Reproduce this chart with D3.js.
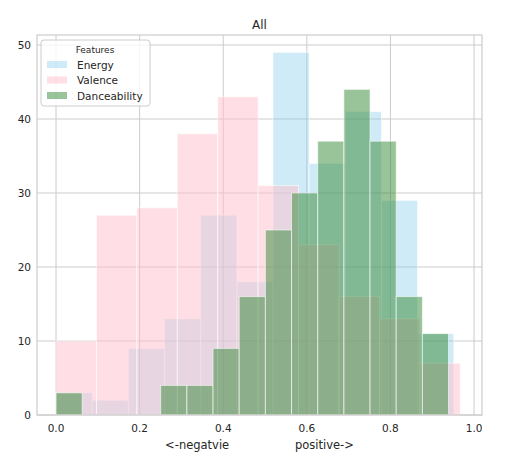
<!DOCTYPE html>
<html><head><meta charset="utf-8">
<script src="https://cdn.jsdelivr.net/npm/d3@7"></script>
<style>body{margin:0;background:#fff;font-family:"DejaVu Sans",sans-serif;}</style>
</head><body>
<script>
var energyStart = 0, energyWidth = 0.0865;
var energy = [3, 2, 9, 13, 27, 18, 49, 34, 41, 29, 11];
var valenceStart = 0, valenceWidth = 0.0967;
var valence = [10, 27, 28, 38, 43, 31, 23, 16, 13, 7];
var danceStart = 0, danceWidth = 0.0626;
var dance = [3, 0, 0, 0, 4, 4, 9, 16, 25, 30, 37, 44, 37, 16, 11];
var xTicks = [0, 0.2, 0.4, 0.6, 0.8, 1.0];
var yTicks = [0, 10, 20, 30, 40, 50];

var w = 505, h = 475;
var mLeft = 37, mRight = 482, mTop = 35, mBottom = 415;

var svg = d3.select("body").append("svg").attr("width", w).attr("height", h);

var xScale = d3.scaleLinear().domain([-0.0455, 1.019]).range([mLeft, mRight]);
var yScale = d3.scaleLinear().domain([0, 51.35]).range([mBottom, mTop]);

// grid
svg.append("g").selectAll("line").data(xTicks).enter().append("line")
    .attr("x1", d => xScale(d)).attr("x2", d => xScale(d))
    .attr("y1", mTop).attr("y2", mBottom)
    .attr("stroke", "#cccccc").attr("stroke-width", 1);
svg.append("g").selectAll("line").data(yTicks).enter().append("line")
    .attr("x1", mLeft).attr("x2", mRight)
    .attr("y1", d => yScale(d)).attr("y2", d => yScale(d))
    .attr("stroke", "#cccccc").attr("stroke-width", 1);

function drawHist(values, start, width, fill, alpha){
    svg.append("g").selectAll("rect").data(values).enter().append("rect")
        .attr("x", (d, i) => xScale(start + i * width))
        .attr("width", (d, i) => xScale(start + (i + 1) * width) - xScale(start + i * width))
        .attr("y", d => yScale(d))
        .attr("height", d => mBottom - yScale(d))
        .attr("fill", fill).attr("fill-opacity", alpha)
        .attr("stroke", "#ffffff").attr("stroke-opacity", 0.6).attr("stroke-width", 1)
        .style("display", d => d > 0 ? null : "none");
}
drawHist(energy, energyStart, energyWidth, "#87ceeb", 0.4);
drawHist(valence, valenceStart, valenceWidth, "#ffc0cb", 0.5);
drawHist(dance, danceStart, danceWidth, "#338833", 0.5);

// frame
svg.append("rect").attr("x", mLeft).attr("y", mTop)
    .attr("width", mRight - mLeft).attr("height", mBottom - mTop)
    .attr("fill", "none").attr("stroke", "#cccccc").attr("stroke-width", 1.2);

// tick labels
svg.append("g").selectAll("text").data(xTicks).enter().append("text")
    .attr("x", d => xScale(d)).attr("y", mBottom + 17)
    .attr("text-anchor", "middle").attr("font-size", 10.5).attr("fill", "#262626")
    .text(d => d.toFixed(1));
svg.append("g").selectAll("text").data(yTicks).enter().append("text")
    .attr("x", mLeft - 6).attr("y", d => yScale(d) + 4)
    .attr("text-anchor", "end").attr("font-size", 10.5).attr("fill", "#262626")
    .text(d => d);

svg.append("text").attr("x", (mLeft + mRight) / 2).attr("y", 29)
    .attr("text-anchor", "middle").attr("font-size", 12).attr("fill", "#262626").text("All");
svg.append("text").attr("x", (mLeft + mRight) / 2).attr("y", 449)
    .attr("text-anchor", "middle").attr("font-size", 11.5).attr("fill", "#262626")
    .style("white-space", "pre")
    .text("<-negatvie                  positive->");

// legend
var lg = svg.append("g");
lg.append("rect").attr("x", 41).attr("y", 40).attr("width", 109).attr("height", 66)
    .attr("rx", 3).attr("fill", "#ffffff").attr("fill-opacity", 0.8).attr("stroke", "#cccccc");
lg.append("text").attr("x", 95).attr("y", 53).attr("text-anchor", "middle")
    .attr("font-size", 9).attr("fill", "#262626").text("Features");
var items = [["Energy", "#87ceeb", 0.4], ["Valence", "#ffc0cb", 0.5], ["Danceability", "#338833", 0.5]];
items.forEach(function(it, i){
    var y = 65 + i * 15.5;
    lg.append("rect").attr("x", 47).attr("y", y - 4).attr("width", 20).attr("height", 7)
        .attr("fill", it[1]).attr("fill-opacity", it[2]);
    lg.append("text").attr("x", 77).attr("y", y + 3.5).attr("font-size", 10.5)
        .attr("fill", "#262626").text(it[0]);
});
</script>
</body></html>
